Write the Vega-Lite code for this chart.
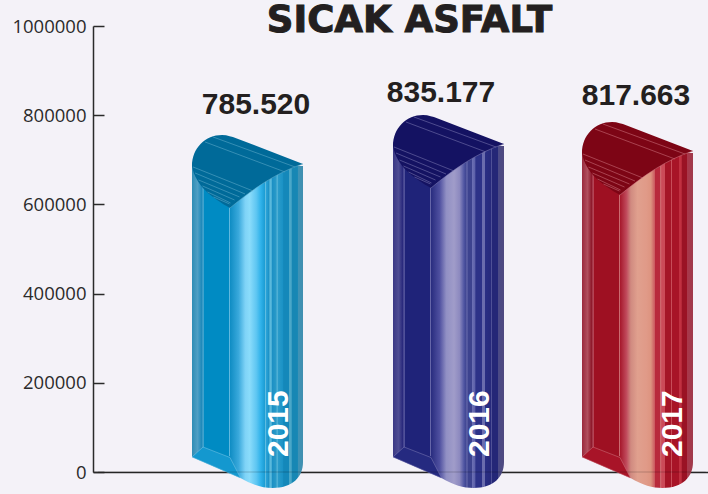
{"$schema":"https://vega.github.io/schema/vega-lite/v6.json","width":615,"height":446,"autosize":"none","padding":{"left":93,"top":26,"right":0,"bottom":22},"background":"#f4f2f8",
"data":{"values":[{"year":2015,"value":785520,"label":"785.520","yearLabel":"2015"},{"year":2016,"value":835177,"label":"835.177","yearLabel":"2016"},{"year":2017,"value":817663,"label":"817.663","yearLabel":"2017"}]},
"config":{"view":{"stroke":null}},
"encoding":{"x":{"field":"year","type":"quantitative","scale":{"domain":[2014,2015,2016,2017,2018],"range":[0,154.5,355.5,544.5,615]},"axis":{"title":null,"labels":false,"ticks":false,"grid":false,"domainColor":"#2a2a2a","domainWidth":1.5}},
"y":{"field":"value","type":"quantitative","scale":{"domain":[0,1000000],"nice":false},"axis":{"title":null,"values":[0,200000,400000,600000,800000,1000000],"format":"d","grid":false,"tickSize":-11,"tickColor":"#2a2a2a","tickWidth":1.5,"domainColor":"#2a2a2a","domainWidth":1.5,"labelFont":"Open Sans","labelFontSize":18.5,"labelColor":"#2b2b2b","labelPadding":18}}},
"layer":[
{"transform":[{"filter":"datum.year==2015"}],"mark":{"type":"bar","width":111,"yOffset":44.3,"y2Offset":-15,"fill":{"gradient":"linear","x1":0,"x2":1,"y1":0,"y2":0,"stops":[{"offset":0,"color":"#2f8db5"},{"offset":0.05,"color":"#4f9fc4"},{"offset":0.09,"color":"#1a88ba"},{"offset":0.1,"color":"#5fb0d4"},{"offset":0.11,"color":"#008bc3"},{"offset":0.33,"color":"#008bc3"},{"offset":0.335,"color":"#7fc9e8"},{"offset":0.345,"color":"#108dc4"},{"offset":0.42,"color":"#3aa9dc"},{"offset":0.48,"color":"#7fd3f7"},{"offset":0.52,"color":"#8adcfb"},{"offset":0.58,"color":"#5ec6f2"},{"offset":0.62,"color":"#2fb2ea"},{"offset":0.655,"color":"#1c9dd4"},{"offset":0.66,"color":"#6cc3e3"},{"offset":0.67,"color":"#2aa3d8"},{"offset":0.695,"color":"#1a8fc4"},{"offset":0.7,"color":"#5ab9dc"},{"offset":0.715,"color":"#5ab9dc"},{"offset":0.72,"color":"#1a8fc4"},{"offset":0.76,"color":"#2a9bc9"},{"offset":0.765,"color":"#76c6e2"},{"offset":0.775,"color":"#2a9bc9"},{"offset":0.82,"color":"#1a92c6"},{"offset":0.825,"color":"#1488ba"},{"offset":0.87,"color":"#1488ba"},{"offset":0.875,"color":"#4aa7c8"},{"offset":0.895,"color":"#4aa7c8"},{"offset":0.9,"color":"#1787b4"},{"offset":0.95,"color":"#1787b4"},{"offset":0.955,"color":"#3f93b6"},{"offset":1,"color":"#3f8fb0"}]}},"encoding":{"y2":{"datum":0}}},
{"transform":[{"filter":"datum.year==2015"}],"mark":{"type":"point","filled":true,"opacity":1,"size":40000,"yOffset":12.3,"shape":"M-0.555,0.32 C-0.555,0.14 -0.42,0.01 -0.255,0.01 C-0.2,0.01 -0.15,0.03 -0.12,0.04 L0.555,0.3 C0.3,0.38 0.05,0.55 -0.175,0.74 C-0.35,0.64 -0.52,0.52 -0.555,0.32 Z","fill":"#006a99"}},
{"transform":[{"filter":"datum.year==2015"}],"mark":{"type":"point","filled":false,"opacity":0.75,"size":40000,"yOffset":12.3,"strokeWidth":0.7,"shape":"M-0.425,0.08 L0.375,0.38 M-0.345,0.03 L0.475,0.33 M-0.545,0.33 L0.055,0.57 M-0.525,0.39 L-0.025,0.6 M-0.49,0.46 L-0.08,0.63 M-0.45,0.52 L-0.13,0.66 M-0.4,0.58 L-0.17,0.69 M-0.34,0.63 L-0.18,0.7 M-0.175,0.74 C0.05,0.55 0.3,0.38 0.555,0.3","stroke":"#66b0cf"}},
{"transform":[{"filter":"datum.year==2015"}],"mark":{"type":"point","filled":true,"opacity":1,"size":40000,"shape":"M-0.555,-0.16 L-0.555,-0.15 L-0.07,0.06 C0.05,0.13 0.15,0.16 0.25,0.16 C0.45,0.16 0.555,0.05 0.555,-0.1 L0.555,-0.16 Z","fill":{"gradient":"linear","x1":0,"x2":1,"y1":0,"y2":0,"stops":[{"offset":0,"color":"#2f8db5"},{"offset":0.33,"color":"#008bc3"},{"offset":0.345,"color":"#108dc4"},{"offset":0.42,"color":"#3aa9dc"},{"offset":0.48,"color":"#7fd3f7"},{"offset":0.52,"color":"#8adcfb"},{"offset":0.58,"color":"#5ec6f2"},{"offset":0.62,"color":"#2fb2ea"},{"offset":0.655,"color":"#1c9dd4"},{"offset":0.66,"color":"#6cc3e3"},{"offset":0.67,"color":"#2aa3d8"},{"offset":0.695,"color":"#1a8fc4"},{"offset":0.7,"color":"#5ab9dc"},{"offset":0.715,"color":"#5ab9dc"},{"offset":0.72,"color":"#1a8fc4"},{"offset":0.76,"color":"#2a9bc9"},{"offset":0.765,"color":"#76c6e2"},{"offset":0.775,"color":"#2a9bc9"},{"offset":0.82,"color":"#1a92c6"},{"offset":0.825,"color":"#1488ba"},{"offset":0.87,"color":"#1488ba"},{"offset":0.875,"color":"#4aa7c8"},{"offset":0.895,"color":"#4aa7c8"},{"offset":0.9,"color":"#1787b4"},{"offset":0.95,"color":"#1787b4"},{"offset":0.955,"color":"#3f93b6"},{"offset":1,"color":"#3f8fb0"}]}},"encoding":{"y":{"datum":0}}},
{"transform":[{"filter":"datum.year==2015"}],"mark":{"type":"point","filled":true,"opacity":1,"size":40000,"shape":"M-0.555,-0.15 L-0.445,-0.25 L-0.175,-0.145 L-0.07,0.06 Z","fill":"#1498cf","stroke":"#7fc9e8","strokeWidth":0.5},"encoding":{"y":{"datum":0}}},
{"transform":[{"filter":"datum.year==2015"}],"mark":{"type":"text","font":"Liberation Sans","fontWeight":"bold","fontSize":30,"color":"#231f20","xOffset":8.5,"yOffset":-16.7,"baseline":"middle"},"encoding":{"text":{"field":"label"}}},
{"transform":[{"filter":"datum.year==2015"}],"mark":{"type":"text","font":"Liberation Sans","fontWeight":"bold","fontSize":30,"color":"#ffffff","angle":270,"align":"left","baseline":"middle","xOffset":31,"yOffset":-15},"encoding":{"text":{"field":"yearLabel"},"y":{"datum":0}}},

{"transform":[{"filter":"datum.year==2016"}],"mark":{"type":"bar","width":111,"yOffset":46.5,"y2Offset":-15,"fill":{"gradient":"linear","x1":0,"x2":1,"y1":0,"y2":0,"stops":[{"offset":0,"color":"#3a3884"},{"offset":0.05,"color":"#4e4d93"},{"offset":0.09,"color":"#26267b"},{"offset":0.1,"color":"#6b6aab"},{"offset":0.11,"color":"#1f2379"},{"offset":0.33,"color":"#1f2379"},{"offset":0.335,"color":"#7d7cb8"},{"offset":0.345,"color":"#2a2d80"},{"offset":0.42,"color":"#4f50a0"},{"offset":0.48,"color":"#9190c4"},{"offset":0.55,"color":"#a09cc9"},{"offset":0.6,"color":"#8c89bf"},{"offset":0.64,"color":"#4f55a2"},{"offset":0.66,"color":"#3d438f"},{"offset":0.665,"color":"#7a7cba"},{"offset":0.675,"color":"#3d438f"},{"offset":0.71,"color":"#3d438f"},{"offset":0.715,"color":"#6b6fb3"},{"offset":0.74,"color":"#5b5fa8"},{"offset":0.745,"color":"#2d3288"},{"offset":0.8,"color":"#2d3288"},{"offset":0.805,"color":"#6a6cad"},{"offset":0.825,"color":"#6a6cad"},{"offset":0.83,"color":"#2a2e84"},{"offset":0.88,"color":"#272a7c"},{"offset":0.885,"color":"#5b5da0"},{"offset":0.895,"color":"#242777"},{"offset":0.945,"color":"#242777"},{"offset":0.95,"color":"#4a4a86"},{"offset":1,"color":"#4f4a80"}]}},"encoding":{"y2":{"datum":0}}},
{"transform":[{"filter":"datum.year==2016"}],"mark":{"type":"point","filled":true,"opacity":1,"size":40000,"yOffset":14.5,"shape":"M-0.555,0.32 C-0.555,0.14 -0.42,0.01 -0.255,0.01 C-0.2,0.01 -0.15,0.03 -0.12,0.04 L0.555,0.3 C0.3,0.38 0.05,0.55 -0.175,0.74 C-0.35,0.64 -0.52,0.52 -0.555,0.32 Z","fill":"#141262"}},
{"transform":[{"filter":"datum.year==2016"}],"mark":{"type":"point","filled":false,"opacity":0.75,"size":40000,"yOffset":14.5,"strokeWidth":0.7,"shape":"M-0.425,0.08 L0.375,0.38 M-0.345,0.03 L0.475,0.33 M-0.545,0.33 L0.055,0.57 M-0.525,0.39 L-0.025,0.6 M-0.49,0.46 L-0.08,0.63 M-0.45,0.52 L-0.13,0.66 M-0.4,0.58 L-0.17,0.69 M-0.34,0.63 L-0.18,0.7 M-0.175,0.74 C0.05,0.55 0.3,0.38 0.555,0.3","stroke":"#8280b8"}},
{"transform":[{"filter":"datum.year==2016"}],"mark":{"type":"point","filled":true,"opacity":1,"size":40000,"shape":"M-0.555,-0.16 L-0.555,-0.15 L-0.07,0.06 C0.05,0.13 0.15,0.16 0.25,0.16 C0.45,0.16 0.555,0.05 0.555,-0.1 L0.555,-0.16 Z","fill":{"gradient":"linear","x1":0,"x2":1,"y1":0,"y2":0,"stops":[{"offset":0,"color":"#3a3884"},{"offset":0.33,"color":"#1f2379"},{"offset":0.345,"color":"#2a2d80"},{"offset":0.42,"color":"#4f50a0"},{"offset":0.48,"color":"#9190c4"},{"offset":0.55,"color":"#a09cc9"},{"offset":0.6,"color":"#8c89bf"},{"offset":0.64,"color":"#4f55a2"},{"offset":0.66,"color":"#3d438f"},{"offset":0.665,"color":"#7a7cba"},{"offset":0.675,"color":"#3d438f"},{"offset":0.71,"color":"#3d438f"},{"offset":0.715,"color":"#6b6fb3"},{"offset":0.74,"color":"#5b5fa8"},{"offset":0.745,"color":"#2d3288"},{"offset":0.8,"color":"#2d3288"},{"offset":0.805,"color":"#6a6cad"},{"offset":0.825,"color":"#6a6cad"},{"offset":0.83,"color":"#2a2e84"},{"offset":0.88,"color":"#272a7c"},{"offset":0.885,"color":"#5b5da0"},{"offset":0.895,"color":"#242777"},{"offset":0.945,"color":"#242777"},{"offset":0.95,"color":"#4a4a86"},{"offset":1,"color":"#4f4a80"}]}},"encoding":{"y":{"datum":0}}},
{"transform":[{"filter":"datum.year==2016"}],"mark":{"type":"point","filled":true,"opacity":1,"size":40000,"shape":"M-0.555,-0.15 L-0.445,-0.25 L-0.175,-0.145 L-0.07,0.06 Z","fill":"#252a80","stroke":"#8280b8","strokeWidth":0.5},"encoding":{"y":{"datum":0}}},
{"transform":[{"filter":"datum.year==2016"}],"mark":{"type":"text","font":"Liberation Sans","fontWeight":"bold","fontSize":30,"color":"#231f20","xOffset":-7.5,"yOffset":-6.5,"baseline":"middle"},"encoding":{"text":{"field":"label"}}},
{"transform":[{"filter":"datum.year==2016"}],"mark":{"type":"text","font":"Liberation Sans","fontWeight":"bold","fontSize":30,"color":"#ffffff","angle":270,"align":"left","baseline":"middle","xOffset":31.5,"yOffset":-15},"encoding":{"text":{"field":"yearLabel"},"y":{"datum":0}}},

{"transform":[{"filter":"datum.year==2017"}],"mark":{"type":"bar","width":111,"yOffset":45.7,"y2Offset":-15,"fill":{"gradient":"linear","x1":0,"x2":1,"y1":0,"y2":0,"stops":[{"offset":0,"color":"#9a2a3d"},{"offset":0.05,"color":"#b0505e"},{"offset":0.09,"color":"#8c1426"},{"offset":0.1,"color":"#c26070"},{"offset":0.11,"color":"#9e1022"},{"offset":0.33,"color":"#9e1022"},{"offset":0.335,"color":"#d88a8a"},{"offset":0.345,"color":"#a71a2d"},{"offset":0.4,"color":"#c04a5c"},{"offset":0.44,"color":"#d08a80"},{"offset":0.5,"color":"#e0a08e"},{"offset":0.58,"color":"#e09a88"},{"offset":0.62,"color":"#dd9480"},{"offset":0.655,"color":"#cb5a60"},{"offset":0.66,"color":"#b82a3c"},{"offset":0.7,"color":"#b82a3c"},{"offset":0.705,"color":"#d06a70"},{"offset":0.72,"color":"#cb4a58"},{"offset":0.745,"color":"#cb4a58"},{"offset":0.75,"color":"#a51527"},{"offset":0.8,"color":"#a51527"},{"offset":0.805,"color":"#cc5560"},{"offset":0.815,"color":"#a81427"},{"offset":0.87,"color":"#a81427"},{"offset":0.875,"color":"#c03040"},{"offset":0.895,"color":"#c03040"},{"offset":0.9,"color":"#9a1224"},{"offset":0.945,"color":"#9a1224"},{"offset":0.95,"color":"#a8384a"},{"offset":1,"color":"#a03a4c"}]}},"encoding":{"y2":{"datum":0}}},
{"transform":[{"filter":"datum.year==2017"}],"mark":{"type":"point","filled":true,"opacity":1,"size":40000,"yOffset":13.7,"shape":"M-0.555,0.32 C-0.555,0.14 -0.42,0.01 -0.255,0.01 C-0.2,0.01 -0.15,0.03 -0.12,0.04 L0.555,0.3 C0.3,0.38 0.05,0.55 -0.175,0.74 C-0.35,0.64 -0.52,0.52 -0.555,0.32 Z","fill":"#7d0515"}},
{"transform":[{"filter":"datum.year==2017"}],"mark":{"type":"point","filled":false,"opacity":0.75,"size":40000,"yOffset":13.7,"strokeWidth":0.7,"shape":"M-0.425,0.08 L0.375,0.38 M-0.345,0.03 L0.475,0.33 M-0.545,0.33 L0.055,0.57 M-0.525,0.39 L-0.025,0.6 M-0.49,0.46 L-0.08,0.63 M-0.45,0.52 L-0.13,0.66 M-0.4,0.58 L-0.17,0.69 M-0.34,0.63 L-0.18,0.7 M-0.175,0.74 C0.05,0.55 0.3,0.38 0.555,0.3","stroke":"#d27a85"}},
{"transform":[{"filter":"datum.year==2017"}],"mark":{"type":"point","filled":true,"opacity":1,"size":40000,"shape":"M-0.555,-0.16 L-0.555,-0.15 L-0.07,0.06 C0.05,0.13 0.15,0.16 0.25,0.16 C0.45,0.16 0.555,0.05 0.555,-0.1 L0.555,-0.16 Z","fill":{"gradient":"linear","x1":0,"x2":1,"y1":0,"y2":0,"stops":[{"offset":0,"color":"#9a2a3d"},{"offset":0.33,"color":"#9e1022"},{"offset":0.345,"color":"#a71a2d"},{"offset":0.4,"color":"#c04a5c"},{"offset":0.44,"color":"#d08a80"},{"offset":0.5,"color":"#e0a08e"},{"offset":0.58,"color":"#e09a88"},{"offset":0.62,"color":"#dd9480"},{"offset":0.655,"color":"#cb5a60"},{"offset":0.66,"color":"#b82a3c"},{"offset":0.7,"color":"#b82a3c"},{"offset":0.705,"color":"#d06a70"},{"offset":0.72,"color":"#cb4a58"},{"offset":0.745,"color":"#cb4a58"},{"offset":0.75,"color":"#a51527"},{"offset":0.8,"color":"#a51527"},{"offset":0.805,"color":"#cc5560"},{"offset":0.815,"color":"#a81427"},{"offset":0.87,"color":"#a81427"},{"offset":0.875,"color":"#c03040"},{"offset":0.895,"color":"#c03040"},{"offset":0.9,"color":"#9a1224"},{"offset":0.945,"color":"#9a1224"},{"offset":0.95,"color":"#a8384a"},{"offset":1,"color":"#a03a4c"}]}},"encoding":{"y":{"datum":0}}},
{"transform":[{"filter":"datum.year==2017"}],"mark":{"type":"point","filled":true,"opacity":1,"size":40000,"shape":"M-0.555,-0.15 L-0.445,-0.25 L-0.175,-0.145 L-0.07,0.06 Z","fill":"#a81428","stroke":"#d27a85","strokeWidth":0.5},"encoding":{"y":{"datum":0}}},
{"transform":[{"filter":"datum.year==2017"}],"mark":{"type":"text","font":"Liberation Sans","fontWeight":"bold","fontSize":30,"color":"#231f20","xOffset":-1.5,"yOffset":-11.3,"baseline":"middle"},"encoding":{"text":{"field":"label"}}},
{"transform":[{"filter":"datum.year==2017"}],"mark":{"type":"text","font":"Liberation Sans","fontWeight":"bold","fontSize":30,"color":"#ffffff","angle":270,"align":"left","baseline":"middle","xOffset":35,"yOffset":-15},"encoding":{"text":{"field":"yearLabel"},"y":{"datum":0}}},

{"transform":[{"filter":"datum.year==2016"}],"mark":{"type":"rule","color":"#000000","opacity":0.2,"strokeWidth":1},"encoding":{"x":{"datum":2014},"x2":{"datum":2018},"y":{"datum":0}}},
{"transform":[{"filter":"datum.year==2016"}],"mark":{"type":"text","text":"SICAK ASFALT","font":"DejaVu Sans","fontWeight":"bold","fontSize":37,"fill":"#231f20","stroke":"#231f20","strokeWidth":1,"baseline":"middle","xOffset":-39,"yOffset":-5},"encoding":{"y":{"datum":1000000}}}
]}
